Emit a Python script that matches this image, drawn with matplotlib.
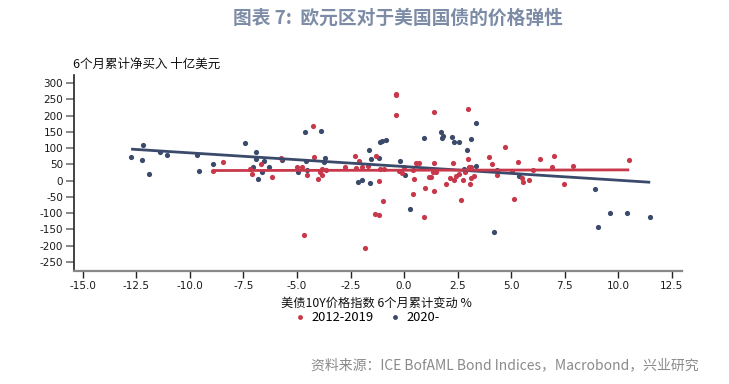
import matplotlib
matplotlib.use("Agg")
import matplotlib.pyplot as plt
from matplotlib.lines import Line2D
import numpy as np

plt.rcParams['font.family'] = ['Noto Sans CJK SC', 'DejaVu Sans']

# 2012-2019 (red)
red_x = [-8.91, -8.47, -7.20, -7.09, -6.70, -6.17, -5.74, -5.01, -4.78, -4.54,
         -4.23, -4.19, -4.04, -3.92, -3.81, -3.84, -3.65, -4.65, -2.76, -2.27,
         -2.11, -2.23, -1.97, -1.69, -1.33, -1.17, -1.11, -0.92, -1.00, -1.36,
         -1.17, -1.84, -0.37, -0.36, -0.37, -0.25, -0.09, -0.02, 0.56, 0.72,
         0.42, 0.48, 0.40, 0.92, 1.00, 1.18, 1.25, 1.39, 1.42, 1.34,
         1.50, 1.39, 2.98, 1.95, 2.17, 2.29, 2.34, 2.43, 2.56, 2.64,
         2.74, 2.84, 2.98, 3.03, 3.12, 3.06, 3.15, 3.26, 3.96, 4.13,
         4.35, 4.71, 5.05, 5.15, 5.34, 5.51, 5.55, 5.82, 6.01, 6.35,
         7.00, 6.90, 7.89, 7.49, 10.52]
red_y = [31, 57, 35, 20, 50, 12, 71, 41, 41, 18,
         168, 72, 4, 28, 18, 35, 33, -167, 43, 77,
         61, 40, 41, 45, 77, -1, 36, 36, -62, -102,
         -105, -206, 266, 262, 202, 31, 23, 41, 53, 53,
         33, 4, -42, -111, -23, 10, 11, -31, 53, 28,
         26, 212, 220, -9, 9, 55, 2, 15, 20, -59,
         2, 28, 67, 41, 41, -10, 9, 15, 72, 52,
         18, 103, 31, -57, 58, 9, -3, 2, 33, 66,
         76, 41, 45, -11, 63]

# 2020- (navy)
navy_x = [-12.75, -12.19, -12.22, -11.91, -11.38, -11.08, -9.66, -9.60, -8.91, -7.42,
          -6.93, -6.91, -7.06, -6.65, -6.82, -6.54, -6.29, -5.71, -4.63, -3.90,
          -4.59, -4.96, -4.54, -3.70, -3.72, -1.64, -1.53, -1.17, -2.17, -1.97,
          -1.58, -1.12, -1.03, -0.83, -0.17, 0.06, 0.29, 0.95, 1.73, 1.75,
          1.81, 2.26, 2.34, 2.59, 2.92, 3.15, 3.35, 3.34, 2.79, 4.18,
          4.32, 5.37, 8.92, 9.64, 10.41, 11.50, 9.06]
navy_y = [72, 108, 63, 21, 88, 80, 80, 31, 50, 117,
          87, 68, 41, 27, 6, 60, 41, 64, 149, 152,
          61, 28, 33, 69, 58, 95, 68, 71, -3, 2,
          -8, 118, 122, 126, 61, 18, -86, 132, 151, 132,
          137, 135, 118, 118, 95, 128, 176, 45, 35, -159,
          33, 15, -25, -98, -100, -111, -141]

# trend lines: (intercept, slope)
red_trend = (32.0, 0.10)
navy_trend = (43.3, -4.2)

x_ticks = [-15.0, -12.5, -10.0, -7.5, -5.0, -2.5, 0.0, 2.5, 5.0, 7.5, 10.0, 12.5]
y_ticks = list(range(-250, 301, 50))

RED = '#c8384b'
NAVY = '#3b4a6b'

fig = plt.figure(figsize=(7.29, 3.84), dpi=100)
ax = fig.add_axes([0.102, 0.294, 0.834, 0.511])

ax.scatter(navy_x, navy_y, s=14, color=NAVY, linewidths=0, zorder=3)
ax.scatter(red_x, red_y, s=14, color=RED, linewidths=0, zorder=3)

for xs, (b, m), c in [(navy_x, navy_trend, NAVY), (red_x, red_trend, RED)]:
    lx = np.array([min(xs), max(xs)])
    ax.plot(lx, b + m * lx, color=c, lw=2.0, solid_capstyle='butt', zorder=4)

ax.set_xlim(-15.4, 13.0)
ax.set_ylim(-278, 325)
ax.set_xticks(x_ticks)
ax.set_xticklabels(['%.1f' % v for v in x_ticks], fontsize=7.5, family='DejaVu Sans')
ax.set_yticks(y_ticks)
ax.set_yticklabels([str(v) for v in y_ticks], fontsize=7.5, family='DejaVu Sans')

for s in ['top', 'right']:
    ax.spines[s].set_visible(False)
ax.spines['left'].set_color('#222222')
ax.spines['left'].set_linewidth(1.2)
ax.spines['bottom'].set_color('#888888')
ax.spines['bottom'].set_linewidth(1.6)
ax.tick_params(axis='y', direction='out', length=6, width=1.4, color='#888888',
               labelcolor='#1a1a1a', pad=2)
ax.tick_params(axis='x', direction='out', length=5, width=1.0, color='#222222',
               labelcolor='#1a1a1a', pad=2)

fig.text(0.546, 0.953, '图表 7:  欧元区对于美国国债的价格弹性', ha='center', va='center',
         fontsize=13.5, fontweight='bold', color='#7d8ca6')
fig.text(0.100, 0.832, '6个月累计净买入 十亿美元', ha='left', va='center',
         fontsize=9, color='#111111')
fig.text(0.517, 0.211, '美债10Y价格指数 6个月累计变动 %', ha='center', va='center',
         fontsize=8.8, color='#111111')

handles = [Line2D([], [], ls='none', marker='o', ms=3.5, color=RED, mec='none'),
           Line2D([], [], ls='none', marker='o', ms=3.5, color=NAVY, mec='none')]
fig.legend(handles, ['2012-2019', '2020-'], loc='center', ncol=2,
           bbox_to_anchor=(0.503, 0.172), frameon=False, fontsize=9.3,
           handletextpad=0.4, columnspacing=1.1, handlelength=1.0)

fig.text(0.958, 0.048, '资料来源：ICE BofAML Bond Indices，Macrobond，兴业研究',
         ha='right', va='center', fontsize=10, color='#8a8a8a')

fig.savefig('out.png', dpi=100)
